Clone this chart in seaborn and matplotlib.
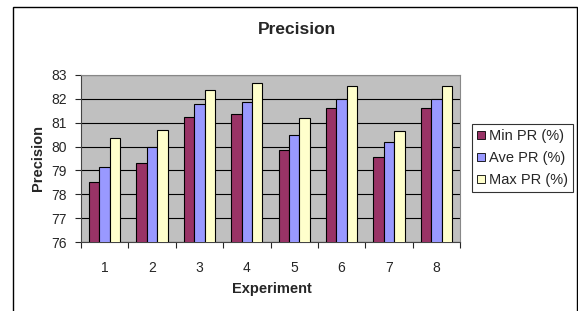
import matplotlib
matplotlib.use("Agg")
import matplotlib.pyplot as plt
import seaborn as sns
import pandas as pd
from matplotlib.patches import Rectangle, Patch

experiments = ["1", "2", "3", "4", "5", "6", "7", "8"]
series_names = ["Min PR (%)", "Ave PR (%)", "Max PR (%)"]
min_pr = [78.50, 79.33, 81.26, 81.35, 79.86, 81.63, 79.58, 81.63]
ave_pr = [79.16, 79.97, 81.77, 81.87, 80.48, 82.00, 80.18, 82.00]
max_pr = [80.34, 80.71, 82.39, 82.67, 81.21, 82.53, 80.67, 82.53]
y_ticks = [76, 77, 78, 79, 80, 81, 82, 83]
colors = ["#993366", "#9999FF", "#FFFFCC"]

rows = []
for name, vals in zip(series_names, [min_pr, ave_pr, max_pr]):
    for e, v in zip(experiments, vals):
        rows.append({"Experiment": e, "Series": name, "Precision": v})
df = pd.DataFrame(rows)

sns.set_style("white")
plt.rcParams["font.family"] = ["Liberation Sans", "DejaVu Sans"]

fig = plt.figure(figsize=(5.78, 3.11), dpi=100)
ax = fig.add_axes([81/578, 1-242/311, (460-81)/578, (242-75)/311])
ax.set_facecolor("#C0C0C0")

sns.barplot(data=df, x="Experiment", y="Precision", hue="Series",
            palette=colors, width=0.66, edgecolor="black", linewidth=0.8,
            ax=ax, legend=False, errorbar=None, saturation=1, zorder=3)

ax.set_ylim(76, 83)
ax.set_yticks(y_ticks)
ax.set_xlim(-0.5, 7.5)
ax.yaxis.grid(True, color="black", linewidth=0.8, zorder=0)
ax.set_axisbelow(True)
ax.set_xticks(range(8))
ax.set_xticklabels(experiments)
ax.tick_params(axis="x", labelsize=10, length=0, pad=14)
ax.tick_params(axis="y", labelsize=10, pad=6, length=4, direction="out", width=0.8, left=True)
ax.set_xticks([i - 0.5 for i in range(9)], minor=True)
ax.tick_params(axis="x", which="minor", length=4, width=0.8, direction="out", bottom=True)
for s in ["left", "bottom"]:
    ax.spines[s].set_color("#444444")
    ax.spines[s].set_linewidth(0.8)
for s in ["top", "right"]:
    ax.spines[s].set_color("#888888")
    ax.spines[s].set_linewidth(0.8)

ax.set_xlabel("")
ax.set_ylabel("")
fig.text(272/578, 1-289/311, "Experiment", ha="center", va="center",
         fontsize=10.5, fontweight="bold")
fig.text(38/578, 1-158/311, "Precision", ha="center", va="center",
         rotation=90, fontsize=10.5, fontweight="bold")
fig.text(297/578, 1-30/311, "Precision", ha="center", va="center",
         fontsize=12.5, fontweight="bold")

handles = [Patch(facecolor=c, edgecolor="black", linewidth=0.6) for c in colors]
leg = fig.legend(handles, series_names, loc="upper left",
                 bbox_to_anchor=(472/578, 1-124/311), fontsize=10.5,
                 frameon=True, fancybox=False, edgecolor="black",
                 handlelength=0.55, handleheight=0.55, handletextpad=0.25,
                 borderpad=0.35, labelspacing=0.55, borderaxespad=0)
leg.get_frame().set_linewidth(0.8)

fig.patches.append(Rectangle((13/578, -0.05), (577-13)/578, 1.05 - 7/311,
                             transform=fig.transFigure, fill=False,
                             edgecolor="black", linewidth=1.0, clip_on=False))

fig.savefig("out.png", dpi=100)
